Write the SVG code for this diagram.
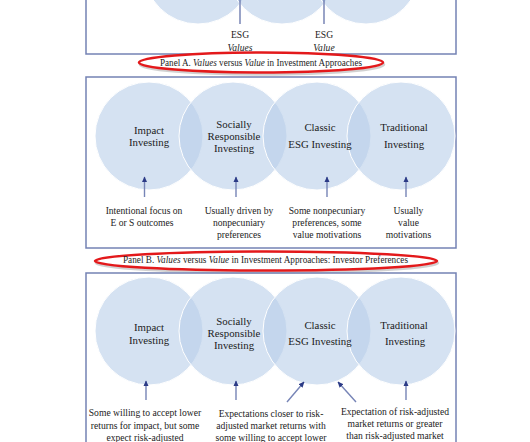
<svg xmlns="http://www.w3.org/2000/svg" width="530" height="442" viewBox="0 0 530 442">
<defs>
<marker id="ah" viewBox="0 0 10 10" refX="9" refY="5" markerWidth="6" markerHeight="6" markerUnits="userSpaceOnUse" orient="auto">
<path d="M0,0.5 L10,5 L0,9.5 z" fill="#2b3a86"/>
</marker>
<style>
.box{fill:none;stroke:#7482b4;stroke-width:1.5}
.c{fill:#b9cfea;fill-opacity:0.6;stroke:#ffffff;stroke-width:1}
.t{font-family:"Liberation Serif","Times New Roman",serif;font-size:10.8px;fill:#1c1c1c;text-anchor:middle}
.s{font-family:"Liberation Serif","Times New Roman",serif;font-size:9.6px;fill:#1c1c1c;text-anchor:middle}
.cap{font-family:"Liberation Serif","Times New Roman",serif;font-size:9.6px;fill:#1c1c1c;text-anchor:middle}
.i{font-style:italic}
.ar{stroke:#7684b6;stroke-width:1.4;fill:none;marker-end:url(#ah)}
.ln{stroke:#6f7db0;stroke-width:1.4}
.red{fill:#ffffff;stroke:#e3191b;stroke-width:2.6}
.sh{fill:none;stroke:#9a9a9a;stroke-width:2.6;stroke-opacity:0.45}
</style>
</defs>
<rect width="530" height="442" fill="#ffffff"/>

<!-- Panel A -->
<g id="panelA">
<rect class="box" x="86" y="-90" width="370" height="144"/>
<circle class="c" cx="198" cy="-30" r="54"/>
<circle class="c" cx="282" cy="-30" r="54"/>
<circle class="c" cx="366" cy="-30" r="54"/>
</g>
<g id="panelA-lines">
<line class="ln" x1="240" y1="0" x2="240" y2="24"/>
<line class="ln" x1="324" y1="0" x2="324" y2="24"/>
</g>
<g id="labelA1">
<text class="s" x="240" y="37.5">ESG</text>
<text class="s i" x="240" y="50.5">Values</text>
</g>
<g id="labelA2">
<text class="s" x="324" y="37.5">ESG</text>
<text class="s i" x="324" y="50.5">Value</text>
</g>
<g id="captionA">
<ellipse class="sh" cx="262" cy="64.5" rx="122" ry="10"/>
<ellipse class="red" cx="261" cy="62.5" rx="122" ry="10"/>
<text class="cap" x="261" y="66" textLength="202" lengthAdjust="spacingAndGlyphs">Panel A.  <tspan class="i">Values</tspan> versus <tspan class="i">Value</tspan> in Investment Approaches</text>
</g>

<!-- Panel B -->
<g id="panelB">
<rect class="box" x="86" y="77" width="370" height="171"/>
</g>
<g id="B-impact">
<circle class="c" cx="149" cy="136" r="54"/>
</g>
<g id="B-sri">
<circle class="c" cx="233" cy="136" r="54"/>
</g>
<g id="B-esg">
<circle class="c" cx="317" cy="136" r="54"/>
</g>
<g id="B-trad">
<circle class="c" cx="401" cy="136" r="54"/>
</g>
<g id="B-texts">
<text class="t" x="149" y="133.5">Impact</text>
<text class="t" x="149" y="145.5">Investing</text>
<text class="t" x="234" y="127.5">Socially</text>
<text class="t" x="234" y="139.5">Responsible</text>
<text class="t" x="234" y="151.5">Investing</text>
<text class="t" x="320" y="130.5">Classic</text>
<text class="t" x="320" y="147.5">ESG Investing</text>
<text class="t" x="404" y="130.5">Traditional</text>
<text class="t" x="404" y="147.5">Investing</text>
</g>
<g id="B-connectors">
<line class="ar" x1="144.5" y1="197" x2="144.5" y2="177"/>
<line class="ar" x1="236" y1="197" x2="236" y2="177"/>
<line class="ar" x1="327" y1="197" x2="327" y2="177"/>
<line class="ar" x1="406" y1="197" x2="406" y2="177"/>
</g>
<g id="B-notes">
<text class="s" x="144" y="213.5">Intentional focus on</text>
<text class="s" x="142" y="226">E or S outcomes</text>
<text class="s" x="239" y="213.5">Usually driven by</text>
<text class="s" x="239" y="226">nonpecuniary</text>
<text class="s" x="239" y="238">preferences</text>
<text class="s" x="327" y="213.5">Some nonpecuniary</text>
<text class="s" x="327" y="226">preferences, some</text>
<text class="s" x="327" y="238">value motivations</text>
<text class="s" x="408.5" y="213.5">Usually</text>
<text class="s" x="408.5" y="226">value</text>
<text class="s" x="408.5" y="238">motivations</text>
</g>
<g id="captionB">
<ellipse class="sh" cx="267" cy="263" rx="171" ry="9.5"/>
<ellipse class="red" cx="266" cy="261" rx="171" ry="9.5"/>
<text class="cap" x="265.5" y="262.5" textLength="285" lengthAdjust="spacingAndGlyphs">Panel B.  <tspan class="i">Values</tspan> versus <tspan class="i">Value</tspan> in Investment Approaches: Investor Preferences</text>
</g>

<!-- Panel C -->
<g id="panelC">
<rect class="box" x="86" y="273" width="370" height="200"/>
</g>
<g id="C-impact">
<circle class="c" cx="149" cy="331" r="54"/>
</g>
<g id="C-sri">
<circle class="c" cx="233" cy="331" r="54"/>
</g>
<g id="C-esg">
<circle class="c" cx="317" cy="331" r="54"/>
</g>
<g id="C-trad">
<circle class="c" cx="401" cy="331" r="54"/>
</g>
<g id="C-texts">
<text class="t" x="149" y="331">Impact</text>
<text class="t" x="149" y="343.5">Investing</text>
<text class="t" x="234" y="324.5">Socially</text>
<text class="t" x="234" y="337">Responsible</text>
<text class="t" x="234" y="349">Investing</text>
<text class="t" x="320" y="328.5">Classic</text>
<text class="t" x="320" y="345">ESG Investing</text>
<text class="t" x="404" y="328.5">Traditional</text>
<text class="t" x="405" y="345">Investing</text>
</g>
<g id="C-connectors">
<line class="ar" x1="146" y1="400" x2="146" y2="381"/>
<line class="ar" x1="236" y1="400" x2="236" y2="381"/>
<line class="ar" x1="287" y1="402" x2="304" y2="382"/>
<line class="ar" x1="356" y1="402" x2="338" y2="382"/>
<line class="ar" x1="406" y1="400" x2="406" y2="381"/>
</g>
<g id="C-notes">
<text class="s" x="145" y="416">Some willing to accept lower</text>
<text class="s" x="145" y="428.5">returns for impact, but some</text>
<text class="s" x="145" y="440.5">expect risk-adjusted</text>
<text class="s" x="271" y="416.5">Expectations closer to risk-</text>
<text class="s" x="271" y="428.5">adjusted market returns with</text>
<text class="s" x="271" y="440.5">some willing to accept lower</text>
<text class="s" x="395" y="415">Expectation of risk-adjusted</text>
<text class="s" x="395" y="427">market returns or greater</text>
<text class="s" x="395" y="439">than risk-adjusted market</text>
</g>
</svg>
